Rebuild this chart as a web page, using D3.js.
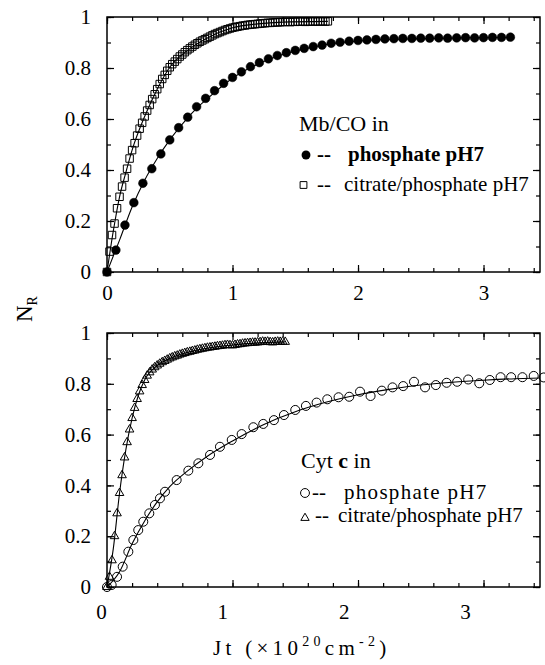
<!DOCTYPE html>
<html>
<head>
<meta charset="utf-8">
<script src="https://cdn.jsdelivr.net/npm/d3@7"></script>
<style>
  body { margin: 0; background: #fff; }
  svg { display: block; }
  svg text { font-family: "Liberation Serif", "DejaVu Serif", "Noto Serif", "Times New Roman", serif; }
</style>
</head>
<body>
<div id="chart"></div>
<script>
// ---- values ----
const xMajorTicks = [0, 1, 2, 3];
const yMajorTicks = [0, 0.2, 0.4, 0.6, 0.8, 1];

// Mb/CO in phosphate pH7 (filled circles)
const mbPhosX = [0, 0.071, 0.143, 0.214, 0.286, 0.357, 0.429, 0.5, 0.571, 0.643, 0.714, 0.786, 0.857, 0.929, 1.0,
  1.071, 1.143, 1.214, 1.286, 1.357, 1.429, 1.5, 1.571, 1.643, 1.714, 1.786, 1.857, 1.929, 2.0, 2.071, 2.143,
  2.214, 2.286, 2.357, 2.429, 2.5, 2.571, 2.643, 2.714, 2.786, 2.857, 2.929, 3.0, 3.071, 3.143, 3.214];
const mbPhosY = [0, 0.086, 0.184, 0.272, 0.348, 0.405, 0.463, 0.518, 0.566, 0.607, 0.648, 0.681, 0.711, 0.74, 0.763,
  0.785, 0.805, 0.821, 0.836, 0.849, 0.86, 0.869, 0.877, 0.884, 0.89, 0.897, 0.901, 0.905, 0.908, 0.91, 0.912,
  0.914, 0.915, 0.916, 0.916, 0.917, 0.917, 0.918, 0.917, 0.918, 0.919, 0.918, 0.919, 0.92, 0.92, 0.921];

// Mb/CO in citrate/phosphate pH7 (open squares)
const mbCitX = [0, 0.02, 0.04, 0.06, 0.08, 0.1, 0.12, 0.14, 0.16, 0.18, 0.2, 0.22, 0.24, 0.26, 0.28, 0.3, 0.32, 0.34,
  0.36, 0.38, 0.4, 0.42, 0.44, 0.46, 0.48, 0.5, 0.52, 0.54, 0.56, 0.58, 0.6, 0.62, 0.64, 0.66, 0.68, 0.7, 0.72, 0.74,
  0.76, 0.78, 0.8, 0.82, 0.84, 0.86, 0.88, 0.9, 0.92, 0.94, 0.96, 0.98, 1.0, 1.02, 1.04, 1.06, 1.08, 1.1, 1.12, 1.14,
  1.16, 1.18, 1.2, 1.22, 1.24, 1.26, 1.28, 1.3, 1.32, 1.34, 1.36, 1.38, 1.4, 1.42, 1.44, 1.46, 1.48, 1.5, 1.52, 1.54,
  1.56, 1.58, 1.6, 1.62, 1.64, 1.66, 1.68, 1.7, 1.72, 1.74, 1.76];
const mbCitY = [0, 0.08, 0.145, 0.19, 0.25, 0.295, 0.335, 0.37, 0.405, 0.445, 0.478, 0.505, 0.535, 0.562, 0.585, 0.61,
  0.633, 0.655, 0.678, 0.697, 0.717, 0.737, 0.757, 0.773, 0.789, 0.803, 0.815, 0.825, 0.835, 0.845, 0.853, 0.862, 0.87,
  0.877, 0.884, 0.891, 0.897, 0.903, 0.908, 0.913, 0.918, 0.923, 0.928, 0.933, 0.937, 0.941, 0.945, 0.949, 0.952, 0.955,
  0.958, 0.96, 0.962, 0.964, 0.966, 0.967, 0.969, 0.97, 0.971, 0.972, 0.973, 0.974, 0.975, 0.976, 0.977, 0.977, 0.978,
  0.979, 0.979, 0.98, 0.98, 0.981, 0.981, 0.98, 0.982, 0.981, 0.982, 0.982, 0.983, 0.981, 0.982, 0.983, 0.982, 0.983,
  0.982, 0.983, 0.983, 0.982, 0.983];

// fitted curves, top panel
const mbPhosFitX = [0, 0.1, 0.2, 0.3, 0.4, 0.5, 0.6, 0.7, 0.8, 1.0, 1.2, 1.4, 1.6, 1.8, 2.0, 2.4, 2.8, 3.21];
const mbPhosFitY = [0, 0.125, 0.255, 0.36, 0.445, 0.518, 0.58, 0.635, 0.68, 0.76, 0.815, 0.853, 0.878, 0.896, 0.906, 0.914, 0.918, 0.92];
const mbCitFitX = [0, 0.05, 0.1, 0.15, 0.2, 0.3, 0.4, 0.5, 0.6, 0.8, 1.0, 1.2, 1.4, 1.76];
const mbCitFitY = [0, 0.16, 0.295, 0.39, 0.478, 0.61, 0.717, 0.803, 0.853, 0.918, 0.958, 0.973, 0.98, 0.983];

// Cyt c in phosphate pH7 (open circles)
const cytPhosX = [0, 0.037, 0.08, 0.125, 0.17, 0.21, 0.249, 0.289, 0.337, 0.382, 0.422, 0.462, 0.555, 0.648, 0.728,
  0.821, 0.9, 0.994, 1.073, 1.166, 1.245, 1.33, 1.41, 1.5, 1.585, 1.67, 1.755, 1.845, 1.93, 2.016, 2.1, 2.19, 2.275,
  2.36, 2.446, 2.534, 2.62, 2.706, 2.79, 2.878, 2.966, 3.05, 3.136, 3.22, 3.31, 3.4, 3.48];
const cytPhosY = [0, 0.008, 0.04, 0.08, 0.139, 0.185, 0.224, 0.257, 0.29, 0.323, 0.349, 0.375, 0.421, 0.458, 0.487,
  0.52, 0.552, 0.579, 0.602, 0.629, 0.642, 0.657, 0.677, 0.697, 0.713, 0.726, 0.739, 0.747, 0.749, 0.769, 0.752, 0.773,
  0.786, 0.791, 0.808, 0.786, 0.795, 0.804, 0.808, 0.817, 0.802, 0.815, 0.826, 0.826, 0.826, 0.831, 0.825];

// Cyt c in citrate/phosphate pH7 (open triangles)
const cytCitX = [0, 0.02, 0.04, 0.06, 0.08, 0.1, 0.12, 0.14, 0.16, 0.18, 0.2, 0.22, 0.24, 0.26, 0.28, 0.3, 0.32, 0.34,
  0.36, 0.38, 0.4, 0.42, 0.44, 0.46, 0.48, 0.5, 0.52, 0.54, 0.56, 0.58, 0.6, 0.62, 0.64, 0.66, 0.68, 0.7, 0.72, 0.74,
  0.76, 0.78, 0.8, 0.82, 0.84, 0.86, 0.88, 0.9, 0.92, 0.94, 0.96, 0.98, 1.0, 1.02, 1.04, 1.06, 1.08, 1.1, 1.12, 1.14,
  1.16, 1.18, 1.2, 1.22, 1.24, 1.26, 1.28, 1.3, 1.32, 1.34, 1.36, 1.38, 1.4, 1.42];
const cytCitY = [0, 0.04, 0.105, 0.2, 0.29, 0.37, 0.44, 0.51, 0.57, 0.62, 0.665, 0.705, 0.74, 0.77, 0.795, 0.815, 0.832,
  0.845, 0.856, 0.865, 0.872, 0.879, 0.885, 0.89, 0.895, 0.9, 0.904, 0.908, 0.911, 0.915, 0.918, 0.921, 0.924, 0.926,
  0.929, 0.931, 0.934, 0.936, 0.938, 0.94, 0.942, 0.943, 0.945, 0.946, 0.948, 0.949, 0.95, 0.952, 0.953, 0.952, 0.951,
  0.953, 0.955, 0.956, 0.958, 0.959, 0.96, 0.961, 0.962, 0.962, 0.963, 0.964, 0.966, 0.965, 0.966, 0.964, 0.963, 0.965,
  0.966, 0.965, 0.966, 0.965];

// fitted curves, bottom panel
const cytPhosFitX = [0, 0.1, 0.2, 0.3, 0.4, 0.5, 0.65, 0.8, 1.0, 1.25, 1.5, 1.75, 2.0, 2.25, 2.5, 2.75, 3.0, 3.25, 3.45];
const cytPhosFitY = [0, 0.06, 0.17, 0.26, 0.335, 0.395, 0.46, 0.515, 0.575, 0.64, 0.69, 0.728, 0.757, 0.778, 0.795, 0.806, 0.814, 0.82, 0.823];
const cytCitFitX = [0, 0.05, 0.1, 0.15, 0.2, 0.25, 0.3, 0.4, 0.5, 0.7, 1.0, 1.42];
const cytCitFitY = [0, 0.15, 0.37, 0.54, 0.665, 0.755, 0.815, 0.872, 0.9, 0.931, 0.953, 0.965];

// ---- layout ----
const width = 545, height = 665;
const fontSize = 21;
const serif = "Liberation Serif, DejaVu Serif, Noto Serif, Times New Roman, serif";

const svg = d3.select("#chart").append("svg")
  .attr("width", width)
  .attr("height", height)
  .attr("font-family", serif);

const x = d3.scaleLinear().domain([0, 3.45]).range([107, 540]);
// tick labels under the lower panel sit slightly off the ticks in the original
const xLabLow = d3.scaleLinear().domain([0, 3]).range([101, 465]);

const zip = (xs, ys) => xs.map((d, i) => ({ x: d, y: ys[i] }));

function styleAxis(sel) {
  sel.attr("font-family", serif).attr("font-size", fontSize);
  sel.select(".domain").remove();
  sel.selectAll("line").attr("stroke", "#000").attr("stroke-width", 1.2);
  sel.selectAll("text")
    .attr("fill", "#000")
    .attr("font-size", fontSize)
    .attr("font-family", serif);
}

function drawFrame(y, labelScale, labelPad) {
  const g = svg.append("g");
  const minorX = d3.range(0, 3.45, 0.2);
  const minorY = d3.range(0, 1.0001, 0.1);
  const y0 = y(0), y1 = y(1);

  // bottom
  g.append("g").attr("transform", `translate(0,${y0})`)
    .call(d3.axisBottom(x).tickValues(minorX).tickSize(-4).tickFormat(""))
    .call(styleAxis);
  g.append("g").attr("transform", `translate(0,${y0})`)
    .call(d3.axisBottom(x).tickValues(xMajorTicks).tickSize(-7).tickFormat(""))
    .call(styleAxis);
  g.append("g").attr("transform", `translate(0,${y0})`)
    .call(d3.axisBottom(labelScale).tickValues(xMajorTicks).tickSize(0).tickPadding(labelPad).tickFormat(d3.format("d")))
    .call(styleAxis);
  // top
  g.append("g").attr("transform", `translate(0,${y1})`)
    .call(d3.axisTop(x).tickValues(minorX).tickSize(-4).tickFormat(""))
    .call(styleAxis);
  g.append("g").attr("transform", `translate(0,${y1})`)
    .call(d3.axisTop(x).tickValues(xMajorTicks).tickSize(-7).tickFormat(""))
    .call(styleAxis);
  // left
  g.append("g").attr("transform", `translate(${x(0)},0)`)
    .call(d3.axisLeft(y).tickValues(minorY).tickSize(-4).tickFormat(""))
    .call(styleAxis);
  g.append("g").attr("transform", `translate(${x(0)},0)`)
    .call(d3.axisLeft(y).tickValues(yMajorTicks).tickSize(-7).tickPadding(16)
      .tickFormat(d => (d === 0 || d === 1) ? String(d) : d.toFixed(1)))
    .call(styleAxis);
  // right
  g.append("g").attr("transform", `translate(${x.range()[1]},0)`)
    .call(d3.axisRight(y).tickValues(minorY).tickSize(-4).tickFormat(""))
    .call(styleAxis);
  g.append("g").attr("transform", `translate(${x.range()[1]},0)`)
    .call(d3.axisRight(y).tickValues(yMajorTicks).tickSize(-7).tickFormat(""))
    .call(styleAxis);

  g.append("rect")
    .attr("x", x(0)).attr("y", y1)
    .attr("width", x.range()[1] - x(0)).attr("height", y0 - y1)
    .attr("fill", "none").attr("stroke", "#000").attr("stroke-width", 1.5);
}

function drawFit(y, xs, ys) {
  const line = d3.line().x(d => x(d.x)).y(d => y(d.y)).curve(d3.curveMonotoneX);
  svg.append("path")
    .datum(zip(xs, ys))
    .attr("d", line)
    .attr("fill", "none")
    .attr("stroke", "#000")
    .attr("stroke-width", 1.1);
}

function drawSymbols(y, xs, ys, type, size, filled) {
  svg.append("g").selectAll("path")
    .data(zip(xs, ys))
    .join("path")
    .attr("transform", d => `translate(${x(d.x)},${y(d.y)})`)
    .attr("d", d3.symbol(type, size))
    .attr("fill", filled ? "#000" : "none")
    .attr("stroke", "#000")
    .attr("stroke-width", filled ? 0.5 : 1);
}

// ---- top panel: Mb/CO ----
const yTop = d3.scaleLinear().domain([0, 1]).range([272, 17]);
drawFrame(yTop, x, 13);
drawFit(yTop, mbCitFitX, mbCitFitY);
drawFit(yTop, mbPhosFitX, mbPhosFitY);
drawSymbols(yTop, mbCitX, mbCitY, d3.symbolSquare, 56, false);
drawSymbols(yTop, mbPhosX, mbPhosY, d3.symbolCircle, 60, true);

// ---- bottom panel: Cyt c ----
const yBot = d3.scaleLinear().domain([0, 1]).range([587, 333]);
drawFrame(yBot, xLabLow, 17);
drawFit(yBot, cytCitFitX, cytCitFitY);
drawFit(yBot, cytPhosFitX, cytPhosFitY);
drawSymbols(yBot, cytCitX, cytCitY, d3.symbolTriangle, 32, false);
drawSymbols(yBot, cytPhosX, cytPhosY, d3.symbolCircle, 64, false);

// ---- legends ----
const leg = svg.append("g").attr("fill", "#000").attr("font-family", serif);

leg.append("text").attr("x", 299).attr("y", 131).attr("font-size", 22).text("Mb/CO in");
leg.append("path").attr("transform", "translate(306,155)").attr("d", d3.symbol(d3.symbolCircle, 62)());
let t = leg.append("text").attr("y", 161).attr("font-size", fontSize).attr("font-weight", 600);
t.append("tspan").attr("x", 317).text("--");
t.append("tspan").attr("x", 348).text("phosphate pH7");
leg.append("path").attr("transform", "translate(303.5,185)").attr("d", d3.symbol(d3.symbolSquare, 46)())
  .attr("fill", "none").attr("stroke", "#000").attr("stroke-width", 1);
t = leg.append("text").attr("y", 191).attr("font-size", fontSize);
t.append("tspan").attr("x", 317).text("--");
t.append("tspan").attr("x", 344).text("citrate/phosphate pH7");

t = leg.append("text").attr("x", 301).attr("y", 468).attr("font-size", 22);
t.append("tspan").text("Cyt ");
t.append("tspan").attr("font-weight", "bold").text("c");
t.append("tspan").text(" in");
leg.append("path").attr("transform", "translate(305,493)").attr("d", d3.symbol(d3.symbolCircle, 62)())
  .attr("fill", "none").attr("stroke", "#000").attr("stroke-width", 1);
t = leg.append("text").attr("y", 499).attr("font-size", fontSize);
t.append("tspan").attr("x", 312).text("--");
t.append("tspan").attr("x", 344).attr("letter-spacing", 1.3).text("phosphate pH7");
leg.append("path").attr("transform", "translate(305,518)").attr("d", d3.symbol(d3.symbolTriangle, 30)())
  .attr("fill", "none").attr("stroke", "#000").attr("stroke-width", 1);
t = leg.append("text").attr("y", 522).attr("font-size", fontSize);
t.append("tspan").attr("x", 315).text("--");
t.append("tspan").attr("x", 338).text("citrate/phosphate pH7");

// ---- axis titles ----
const yt = svg.append("text")
  .attr("transform", "translate(32,322) rotate(-90)")
  .attr("font-family", serif)
  .attr("font-size", 23);
yt.append("tspan").text("N");
yt.append("tspan").attr("font-size", 14).attr("dy", 5).text("R");

const xt = svg.append("text")
  .attr("x", 213).attr("y", 655)
  .attr("font-family", serif)
  .attr("font-size", fontSize)
  .attr("letter-spacing", 4.3);
xt.append("tspan").text("Jt (\u00d710");
xt.append("tspan").attr("font-size", 14).attr("dy", -9).text("20");
xt.append("tspan").attr("dy", 9).text("cm");
xt.append("tspan").attr("font-size", 14).attr("dy", -9).text("-2");
xt.append("tspan").attr("dy", 9).text(")");
</script>
</body>
</html>
